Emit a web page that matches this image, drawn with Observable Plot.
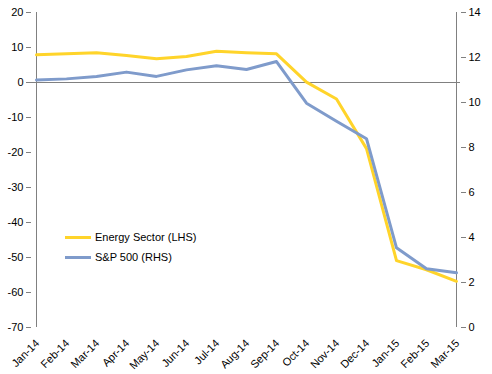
<!DOCTYPE html>
<html>
<head>
<meta charset="utf-8">
<script src="https://cdn.jsdelivr.net/npm/d3@7"></script>
<script src="https://cdn.jsdelivr.net/npm/@observablehq/plot@0.6"></script>
<style>
  html, body { margin: 0; padding: 0; background: #fff; }
  #wrap { position: relative; width: 492px; height: 374px; font-family: "Liberation Sans", Arial, sans-serif; }
  .legend { position: absolute; left: 65px; font-size: 11px; color: #000; }
  .legend .item { display: flex; align-items: center; height: 20px; }
  .legend .sw { width: 26px; height: 3px; margin-right: 4px; }
</style>
</head>
<body>
<div id="wrap"></div>
<script>
const months = ["Jan-14","Feb-14","Mar-14","Apr-14","May-14","Jun-14","Jul-14","Aug-14","Sep-14","Oct-14","Nov-14","Dec-14","Jan-15","Feb-15","Mar-15"];
const energy = [7.9, 8.2, 8.5, 7.7, 6.8, 7.4, 8.9, 8.5, 8.2, 0.1, -4.7, -18.9, -50.9, -53.5, -56.8];
const sp500 = [11.0, 11.05, 11.16, 11.35, 11.16, 11.45, 11.63, 11.47, 11.82, 9.97, 9.17, 8.39, 3.54, 2.61, 2.43];
const leftTicks = [-70, -60, -50, -40, -30, -20, -10, 0, 10, 20];
const rightTicks = [0, 2, 4, 6, 8, 10, 12, 14];
const seriesNames = ["Energy Sector (LHS)", "S&P 500 (RHS)"];
const colors = ["#FFD42A", "#7F9BCB"];

const L0 = -70, L1 = 20, R0 = 0, R1 = 14;
const toLeft = v => L0 + (v - R0) * (L1 - L0) / (R1 - R0);
const toRight = v => R0 + (v - L0) * (R1 - R0) / (L1 - L0);

const rows1 = months.map((m, i) => ({m, v: energy[i]}));
const rows2 = months.map((m, i) => ({m, v: toLeft(sp500[i])}));

const chart = Plot.plot({
  width: 492,
  height: 374,
  marginLeft: 31,
  marginRight: 32,
  marginTop: 12,
  marginBottom: 47,
  style: {fontFamily: "'Liberation Sans', Arial, sans-serif", fontSize: "11px", color: "#000", background: "#fff"},
  x: {type: "point", domain: months, padding: 0},
  y: {domain: [L0, L1]},
  marks: [
    Plot.ruleY([0], {stroke: "#808080", strokeWidth: 1}),
    Plot.axisY({ticks: leftTicks, anchor: "left", tickSize: 5, tickPadding: 3, stroke: "#808080", fill: "#000", label: null, tickFormat: d => String(d)}),
    Plot.ruleX([months[0]], {stroke: "#808080", strokeWidth: 1}),
    Plot.axisY({ticks: rightTicks.map(toLeft), anchor: "right", tickSize: 5, tickPadding: 3, stroke: "#808080", fill: "#000", label: null, tickFormat: d => String(Math.round(toRight(d)))}),
    Plot.ruleX([months[months.length - 1]], {stroke: "#808080", strokeWidth: 1}),
    Plot.axisX({tickRotate: -45, tickSize: 0, tickPadding: 10, dy: 4, dx: 1, fill: "#000", label: null}),
    Plot.line(rows1, {x: "m", y: "v", stroke: colors[0], strokeWidth: 3}),
    Plot.line(rows2, {x: "m", y: "v", stroke: colors[1], strokeWidth: 3})
  ]
});
const wrap = document.getElementById("wrap");
wrap.appendChild(chart);

const leg = document.createElement("div");
leg.className = "legend";
leg.style.top = "227px";
seriesNames.forEach((n, i) => {
  const it = document.createElement("div");
  it.className = "item";
  const sw = document.createElement("span");
  sw.className = "sw";
  sw.style.background = colors[i];
  const t = document.createElement("span");
  t.textContent = n;
  it.appendChild(sw); it.appendChild(t);
  leg.appendChild(it);
});
wrap.appendChild(leg);
</script>
</body>
</html>
